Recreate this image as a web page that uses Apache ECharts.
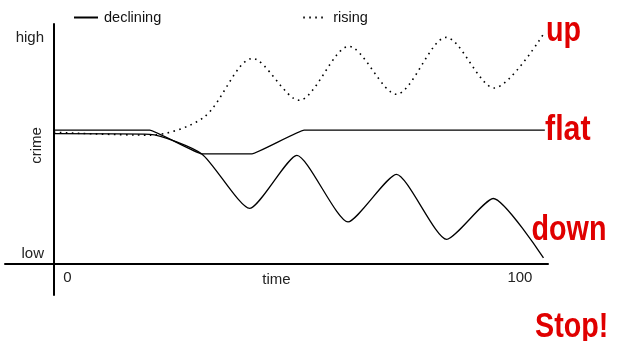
<!DOCTYPE html>
<html>
<head>
<meta charset="utf-8">
<script src="https://cdn.jsdelivr.net/npm/echarts@6/dist/echarts.min.js"></script>
<style>html,body{margin:0;padding:0;background:#fff;}#c{width:624px;height:341px;}</style>
</head>
<body>
<div id="c"></div>
<script>
// ---- data (time, crime level) ----
const timeTicks = [0, 100];
const crimeTicks = [0, 100];
const crimeTickLabels = ['low', 'high'];

const flatTime  = [-3, 18.2, 29.7, 40.8, 52.3, 105.5];
const flatCrime = [57.2, 57.2, 46.2, 46.2, 57.2, 57.2];

const downTime  = [-3, 18.2, 29.7, 40.3, 50.7, 62.0, 72.7, 83.8, 94.1, 105.2];
const downCrime = [55.6, 55.3, 46.2, 20.9, 45.5, 14.6, 36.7, 6.5, 25.5, -2.1];

const upTime  = [-3, 18.2, 30.2, 40.9, 51.2, 62.2, 72.7, 83.7, 94.3, 105.5];
const upCrime = [56.2, 54.9, 63.3, 90.5, 71.1, 96.1, 73.9, 100.3, 76.8, 102.8];

const legendNames = ['declining', 'rising'];
const endWords = ['up', 'flat', 'down', 'Stop!'];

function zip(a, b) { return a.map((v, i) => [v, b[i]]); }

const FONT = '"Liberation Sans", Arial, sans-serif';
const RED = '#e00000';
const redFont = 'bold 35px "Liberation Sans", Arial, sans-serif';
const SQ = 0.82;

const chart = echarts.init(document.getElementById('c'), null, {renderer: 'canvas'});
chart.setOption({
  animation: false,
  backgroundColor: '#fff',
  grid: {left: 5, right: 76, top: 24, bottom: 46, containLabel: false, outerBoundsMode: 'none'},
  legend: {
    data: legendNames,
    left: 73, top: 10, padding: 0,
    itemWidth: 24, itemHeight: 14, itemGap: 141,
    itemStyle: {opacity: 0},
    textStyle: {fontSize: 14.5, color: '#111', fontFamily: FONT, padding: [0, 0, 0, 1]}
  },
  xAxis: {
    type: 'value', min: -13.8, max: 106.2, offset: -31,
    axisLine: {onZero: false, lineStyle: {color: '#000', width: 2}},
    axisTick: {show: false},
    splitLine: {show: false},
    axisLabel: {customValues: timeTicks, margin: 6, fontSize: 15, color: '#222', fontFamily: FONT},
    name: 'time', nameLocation: 'middle', nameGap: 8, nameMoveOverlap: false,
    nameTextStyle: {fontSize: 15, color: '#222', fontFamily: FONT}
  },
  yAxis: {
    type: 'value', min: -19.3, max: 106.5, offset: -49,
    axisLine: {show: true, onZero: false, lineStyle: {color: '#000', width: 2}},
    axisTick: {show: false},
    splitLine: {show: false},
    axisLabel: {
      customValues: crimeTicks, margin: 10, fontSize: 15, color: '#222', fontFamily: FONT,
      formatter: v => crimeTickLabels[crimeTicks.indexOf(v)]
    },
    name: 'crime', nameLocation: 'middle', nameRotate: 90, nameGap: 10, nameMoveOverlap: false,
    nameTextStyle: {fontSize: 15, color: '#222', fontFamily: FONT, padding: [0, 0, 0, 28]}
  },
  series: [
    {name: 'declining', type: 'line', data: zip(flatTime, flatCrime), symbol: 'none', smooth: 0.08,
     lineStyle: {color: '#000', width: 1.3}, itemStyle: {color: '#000'}},
    {name: 'declining', type: 'line', data: zip(downTime, downCrime), symbol: 'none', smooth: 0.2,
     lineStyle: {color: '#000', width: 1.3}, itemStyle: {color: '#000'}},
    {name: 'rising', type: 'line', data: zip(upTime, upCrime), symbol: 'none', smooth: 0.3,
     lineStyle: {color: '#000', width: 1.6, type: [1.6, 4.4]}, itemStyle: {color: '#000'}}
  ],
  graphic: [
    {type: 'text', x: 546, y: 31, scaleX: SQ, style: {text: endWords[0], font: redFont, fill: RED, verticalAlign: 'middle'}},
    {type: 'text', x: 545, y: 130.5, scaleX: SQ * 1.06, style: {text: endWords[1], font: redFont, fill: RED, verticalAlign: 'middle'}},
    {type: 'text', x: 531.5, y: 230, scaleX: SQ, style: {text: endWords[2], font: redFont, fill: RED, verticalAlign: 'middle'}},
    {type: 'text', x: 535, y: 327, scaleX: SQ, style: {text: endWords[3], font: redFont, fill: RED, verticalAlign: 'middle'}}
  ]
});
</script>
</body>
</html>
